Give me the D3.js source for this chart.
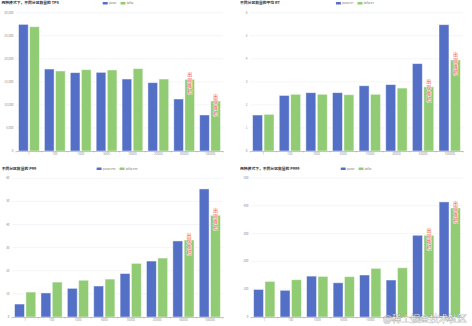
<!DOCTYPE html>
<html><head><meta charset="utf-8">
<script src="https://cdn.jsdelivr.net/npm/d3@7"></script>
<style>html,body{margin:0;padding:0;background:#fff;}svg{display:block;font-family:"Noto Sans CJK SC","Noto Sans",sans-serif;}</style>
</head><body>
<script>
const categories = ["1","100","1000","5000","10000","20000","50000","100000"];
const seriesNames = ["pulsar","kafka"];

const tpsA = [27470, 17780, 16990, 17060, 15610, 14820, 11280, 7810];
const tpsB = [26960, 17350, 17640, 17570, 17860, 15610, 15540, 10840];
const rtA  = [1.56, 2.41, 2.53, 2.53, 2.83, 2.88, 3.79, 5.48];
const rtB  = [1.59, 2.46, 2.46, 2.44, 2.46, 2.73, 2.78, 3.95];
const p99A = [5.6, 10.4, 12.4, 13.4, 18.8, 24.2, 32.9, 55.4];
const p99B = [10.8, 15.1, 15.9, 16.4, 23.2, 25.5, 33.3, 44.0];
const p999A = [99, 96, 147, 123, 151, 133, 294, 414];
const p999B = [128, 134, 146, 145, 175, 177, 294, 392];

const titles = ["两种模式下，不同分区数量的 TPS","不同分区数量的平均 RT","不同分区数量的 P99","两种模式下，不同分区数量的 P999"];
const legendSuffix = ["", " RT", " P99", ""];
const yTicks1 = [0,5000,10000,15000,20000,25000,30000];
const yTicks2 = [0,1,2,3,4,5,6];
const yTicks3 = [0,10,20,30,40,50,60];
const yTicks4 = [0,100,200,300,400,500];
const annotation = "出现堆积";
const annotated = [6,7];

const colors = ["#5470c6","#91cc75"];
const W = 472, H = 326;
const svg = d3.select("body").append("svg").attr("width",W).attr("height",H);

const panels = [
  {ox:0,  oy:0,   x0:16, x1:223, y0:12.7, y1:151, a:tpsA, b:tpsB, ticks:yTicks1, fmt:d3.format(","), tx:1.5, ty:4.3, legX:118},
  {ox:236,oy:0,   x0:14, x1:227, y0:12.7, y1:151, a:rtA,  b:rtB,  ticks:yTicks2, fmt:d3.format("d"), tx:4, ty:4.3, legX:119},
  {ox:0,  oy:163, x0:12, x1:223, y0:15.3, y1:154, a:p99A, b:p99B, ticks:yTicks3, fmt:d3.format("d"), tx:1.7, ty:6.5, legX:117},
  {ox:236,oy:163, x0:15, x1:227, y0:15,   y1:154, a:p999A,b:p999B,ticks:yTicks4, fmt:d3.format("d"), tx:4, ty:6.5, legX:120}
];

panels.forEach((p,pi)=>{
  const g = svg.append("g").attr("transform",`translate(${p.ox},${p.oy})`);
  const x = d3.scaleBand().domain(categories).range([p.x0,p.x1]).paddingInner(0).paddingOuter(0);
  const inner = d3.scaleBand().domain([0,1]).range([0,x.bandwidth()]).paddingInner(0.13).paddingOuter(0.23);
  const y = d3.scaleLinear().domain([0,p.ticks[p.ticks.length-1]]).range([p.y1,p.y0]);

  g.append("g").selectAll("line").data(p.ticks.slice(1)).join("line")
    .attr("x1",p.x0).attr("x2",p.x1).attr("y1",d=>y(d)).attr("y2",d=>y(d))
    .attr("stroke","#eceef4").attr("stroke-width",0.6);
  g.append("g").selectAll("text").data(p.ticks).join("text")
    .attr("x",p.x0-2.5).attr("y",d=>y(d)).attr("dy","0.35em")
    .attr("text-anchor","end").attr("font-size",3).attr("fill","#8a8c94")
    .text(d=>p.fmt(d));

  const data = categories.map((c,i)=>({c,i,v:[p.a[i],p.b[i]]}));
  [0,1].forEach(s=>{
    g.append("g").selectAll("rect").data(data).join("rect")
      .attr("x",d=>x(d.c)+inner(s)).attr("width",inner.bandwidth())
      .attr("y",d=>y(d.v[s])).attr("height",d=>y(0)-y(d.v[s]))
      .attr("fill",colors[s]).attr("stroke","rgba(255,255,255,0.55)").attr("stroke-width",0.8);
  });

  const ax = g.append("g").attr("transform",`translate(0,${p.y1})`)
    .call(d3.axisBottom(x).tickSize(0).tickPadding(2.2));
  ax.select(".domain").attr("stroke","#9a9ca4").attr("stroke-width",0.6);
  ax.selectAll("text").attr("font-size",3).attr("fill","#8a8c94").attr("font-family","Noto Sans, sans-serif");
  ax.append("g").selectAll("line").data(d3.range(categories.length+1)).join("line")
    .attr("x1",i=>p.x0+i*x.bandwidth()).attr("x2",i=>p.x0+i*x.bandwidth())
    .attr("y1",0).attr("y2",1.5).attr("stroke","#9a9ca4").attr("stroke-width",0.5);

  annotated.forEach(i=>{
    const cx = x(categories[i])+inner(1)+inner.bandwidth()/2;
    const top = y(p.b[i]) - 7.5;
    const t = g.append("text").attr("text-anchor","middle").attr("font-size",5)
      .attr("fill","#f2503f").attr("stroke","rgba(255,255,255,0.9)").attr("stroke-width",0.7)
      .attr("paint-order","stroke");
    annotation.split("").forEach((ch,k)=>{
      t.append("tspan").attr("x",cx).attr("y",top+k*5.8+4).text(ch);
    });
  });

  g.append("text").attr("x",p.tx).attr("y",p.ty).attr("font-size",3.8).attr("font-weight","bold")
    .attr("fill","#333").text(titles[pi]);

  const names = seriesNames.map(n=>n+legendSuffix[pi]);
  const lg = g.append("g");
  let cx = 0;
  names.forEach((n,s)=>{
    const it = lg.append("g");
    it.append("rect").attr("x",0).attr("y",-1.2).attr("width",5).attr("height",2.6).attr("rx",0.6).attr("fill",colors[s]);
    const tt = it.append("text").attr("x",6.2).attr("y",0).attr("dy","0.35em").attr("font-size",2.6).attr("fill","#777").text(n);
    const w = 6.2 + tt.node().getComputedTextLength();
    it.attr("transform",`translate(${cx},0)`);
    cx += w + 4;
  });
  const totalW = cx - 4;
  lg.attr("transform",`translate(${p.legX - totalW/2},${pi<2?3.2:5.6})`);
});

svg.append("text").attr("x",467).attr("y",322).attr("text-anchor","end")
  .attr("font-size",9.4).attr("fill","rgba(255,255,255,0.85)")
  .attr("stroke","rgba(110,110,110,0.55)").attr("stroke-width",0.7).attr("paint-order","stroke")
  .text("@稀土掘金技术社区");
</script>
</body></html>
